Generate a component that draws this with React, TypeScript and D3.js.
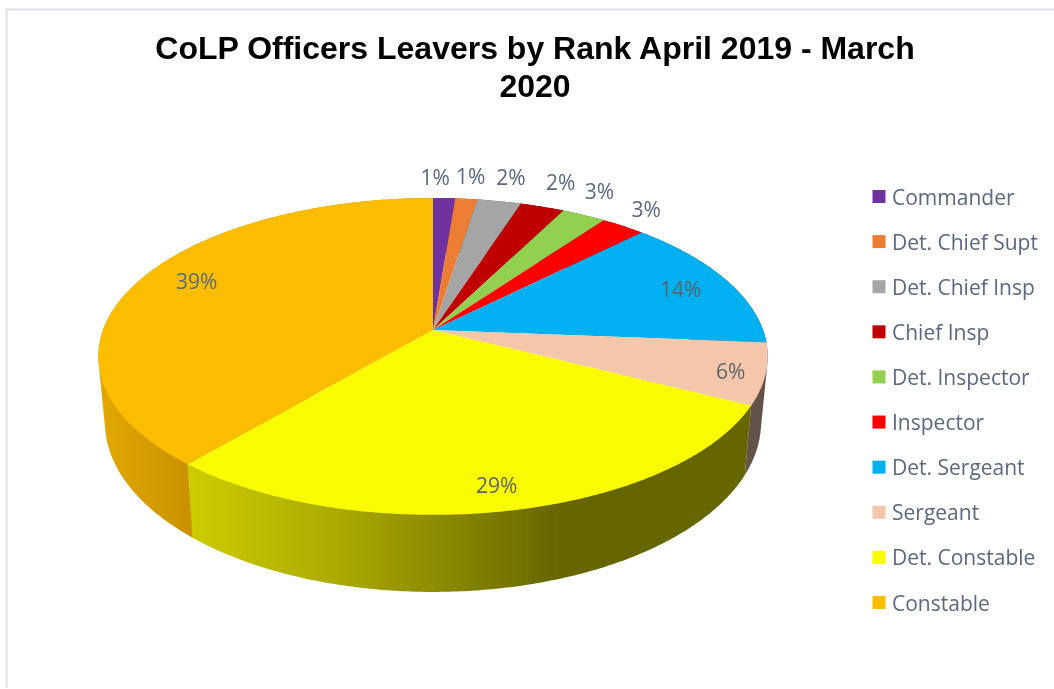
import React from "react";
import * as d3 from "d3";

const titleLines = ["CoLP Officers Leavers by Rank April 2019 - March", "2020"];
const ranks = ["Commander", "Det. Chief Supt", "Det. Chief Insp", "Chief Insp", "Det. Inspector", "Inspector", "Det. Sergeant", "Sergeant", "Det. Constable", "Constable"];
const leavers = [1, 1, 2, 2, 2, 2, 11, 5, 23, 31];
const percentLabels = ["1%", "1%", "2%", "2%", "3%", "3%", "14%", "6%", "29%", "39%"];
const topColors = ["#7030A0", "#ED7D31", "#A5A5A5", "#C00000", "#92D050", "#FF0000", "#00B0F0", "#F4C7AB", "#FAFA00", "#FBBD00"];
const wallColors = ["#3a1854", "#7a4019", "#555555", "#600000", "#4a6a28", "#800000", "#004f70", "#62524a", "url(#wallYellow)", "url(#wallOrange)"];

// Layout of the 3D view
const W = 1054, H = 689;
const apexX = 433, apexY = 330, radiusX = 330, radiusY = 154, persp = 0.167;
const wallOrder = [0, 1, 2, 3, 4, 5, 6, 7, 9, 8];
const labelRadius = [1.12, 1.12, 1.12, 1.12, 1.12, 1.12, 0.8, 0.85, 0.85, 0.7];
const labelNudge: [number, number][] = [[-10, -8], [1, -10], [5, -11], [7, -12], [0, -12], [3, -6], [11, 0], [17, 4], [0, 6], [-28, -13]];

function project(theta: number, r = 1): [number, number] {
  const u = r * Math.sin(theta), v = -r * Math.cos(theta);
  const d = 1 - persp * v;
  return [apexX + (radiusX * u) / d, apexY + (radiusY * v) / d];
}
function lower([x, y]: [number, number]): [number, number] {
  return [apexX + 0.98 * (x - apexX), 41 + 1.07 * y];
}
function rim(a0: number, a1: number) {
  const n = Math.max(2, Math.ceil((a1 - a0) / 0.01));
  return d3.range(n + 1).map((i) => project(a0 + ((a1 - a0) * i) / n));
}

export default function App() {
  const arcs = d3.pie<number>().sort(null).value((d) => d)(leavers);
  const path = d3.line();
  const legendY = d3.scalePoint<string>().domain(ranks).range([196.5, 602.5]);
  return (
    <svg width={W} height={H} viewBox={`0 0 ${W} ${H}`} style={{ position: "absolute", left: 0, top: 0 }}>
      <defs>
        <linearGradient id="wallYellow" gradientUnits="userSpaceOnUse" x1="190" x2="560" y1="0" y2="0">
          <stop offset="0" stopColor="#CCCC00" />
          <stop offset="0.38" stopColor="#ACAC00" />
          <stop offset="1" stopColor="#666600" />
        </linearGradient>
        <linearGradient id="wallOrange" gradientUnits="userSpaceOnUse" x1="100" x2="195" y1="0" y2="0">
          <stop offset="0" stopColor="#E2A800" />
          <stop offset="1" stopColor="#C99000" />
        </linearGradient>
        <filter id="soft" x="-5%" y="-5%" width="110%" height="110%">
          <feGaussianBlur stdDeviation="0.45" />
        </filter>
      </defs>
      <rect x={0} y={0} width={W} height={H} fill="#fff" />
      <path d={`M6.5 688 V9.5 H${W}`} fill="none" stroke="#E3E6EE" strokeWidth={2.5} />
      <g filter="url(#soft)">
        {titleLines.map((t, i) => (
          <text key={t} x={535} y={59 + i * 38} textAnchor="middle" fontFamily="'Liberation Sans', Arial, sans-serif" fontWeight="bold" fontSize={32} fill="#000">{t}</text>
        ))}
        {wallOrder.map((i) => {
          const a = arcs[i];
          const top = rim(a.startAngle, a.endAngle);
          const hull = d3.polygonHull([...top, ...top.map(lower)]) as [number, number][];
          return <path key={"w" + i} d={path(hull) + "Z"} fill={wallColors[i]} />;
        })}
        {arcs.map((a, i) => (
          <path key={"t" + i} d={path([[apexX, apexY], ...rim(a.startAngle, a.endAngle)]) + "Z"} fill={topColors[i]} />
        ))}
        {arcs.map((a, i) => {
          const [x, y] = project((a.startAngle + a.endAngle) / 2, labelRadius[i]);
          return (
            <text key={"l" + i} x={x + labelNudge[i][0]} y={y + labelNudge[i][1]} textAnchor="middle" dominantBaseline="central" fontFamily="'Open Sans', sans-serif" fontSize={21} fill={i > 5 && i !== 9 ? "#5C6470" : "#5A6880"}>{percentLabels[i]}</text>
          );
        })}
        {ranks.map((r, i) => (
          <g key={r}>
            <rect x={872.5} y={legendY(r)! - 6.5} width={13} height={13} fill={topColors[i]} />
            <text x={892} y={legendY(r)!} dominantBaseline="central" fontFamily="'Open Sans', sans-serif" fontSize={21} fill="#5A6880">{r}</text>
          </g>
        ))}
      </g>
    </svg>
  );
}
